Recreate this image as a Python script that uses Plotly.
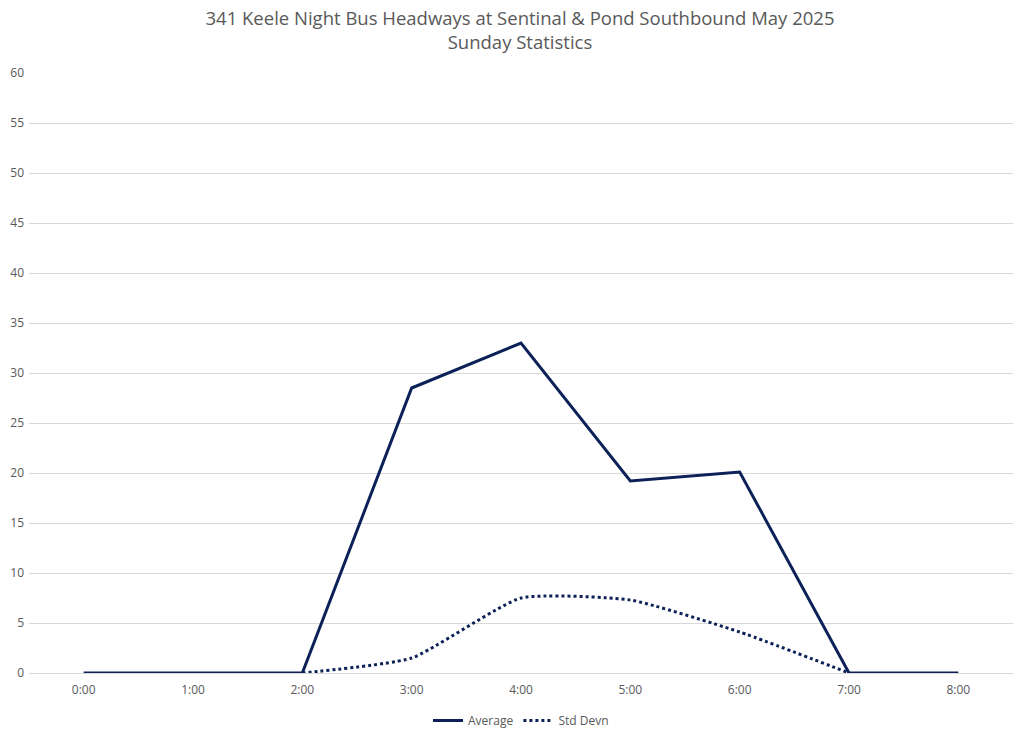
import plotly.graph_objects as go

# hourly buckets, Sunday
hours = ['0:00', '1:00', '2:00', '3:00', '4:00', '5:00', '6:00', '7:00', '8:00']
average = [0, 0, 0, 28.5, 33.0, 19.2, 20.1, 0, 0]
std_devn = [None, None, 0, 1.5, 7.5, 7.3, 4.1, 0, None]

y_ticks = [0, 5, 10, 15, 20, 25, 30, 35, 40, 45, 50, 55, 60]

navy = '#0b2158'
grey_text = '#595959'

fig = go.Figure()
fig.add_trace(go.Scatter(x=hours, y=average, name='Average', mode='lines',
                         line=dict(color=navy, width=3)))
fig.add_trace(go.Scatter(x=hours, y=std_devn, name='Std Devn', mode='lines',
                         line=dict(color=navy, width=3, dash='dot', shape='spline', smoothing=0.5)))

# page body adds ~8px offset, margins compensate for it
fig.update_layout(
    width=1024, height=736,
    paper_bgcolor='white', plot_bgcolor='white',
    margin=dict(l=21, r=19, t=65, b=71, autoexpand=False),
    font=dict(family='Open Sans, Liberation Sans, sans-serif', color=grey_text, size=12),
    title=dict(text='341 Keele Night Bus Headways at Sentinal &amp; Pond Southbound May 2025<br>Sunday Statistics',
               x=0.5, xanchor='center', yref='container', y=0.9775, yanchor='middle',
               font=dict(size=18.5, color=grey_text)),
    showlegend=True,
    legend=dict(orientation='h', x=0.5, xanchor='center', y=-0.055, yanchor='top',
                font=dict(size=12, color=grey_text)),
)
fig.update_xaxes(type='category', range=[-0.5, 8.5], showgrid=False, showline=False,
                 ticks='', automargin=False, ticklabelstandoff=8,
                 tickfont=dict(size=12, color=grey_text))
fig.update_yaxes(range=[0, 60], tickvals=y_ticks, showgrid=True, gridcolor='#d9d9d9',
                 gridwidth=1, zeroline=True, zerolinecolor='#d9d9d9', zerolinewidth=1,
                 ticks='', automargin=False, ticklabelstandoff=4,
                 tickfont=dict(size=12, color=grey_text))

fig.write_html("out.html")
